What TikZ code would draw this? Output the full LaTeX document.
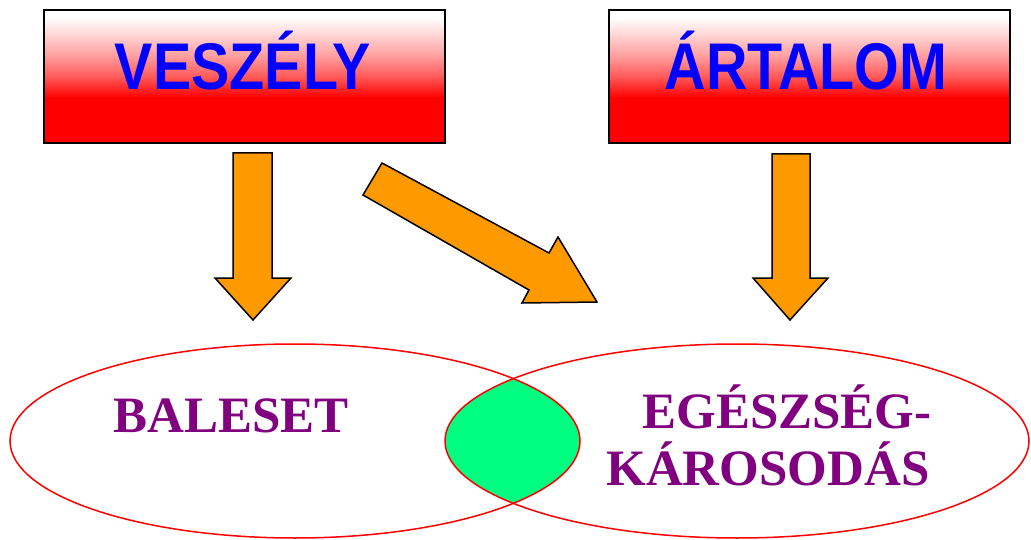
\documentclass[tikz,border=0pt]{standalone}
\usepackage{fontspec}
\setmainfont{Liberation Serif}
\setsansfont{Liberation Sans}
\definecolor{boxblue}{RGB}{0,0,255}
\definecolor{arrorange}{RGB}{255,153,0}
\definecolor{lensgreen}{RGB}{0,255,128}
\definecolor{txtpurple}{RGB}{128,0,128}
\definecolor{redA}{RGB}{255,90,90}
\definecolor{redB}{RGB}{255,160,160}
\definecolor{redC}{RGB}{255,215,215}
\pgfdeclareverticalshading{boxshade}{100bp}{color(0bp)=(red); color(42bp)=(red); color(50bp)=(redA); color(58bp)=(redB); color(66bp)=(redC); color(72bp)=(white); color(100bp)=(white)}
\begin{document}
\begin{tikzpicture}[x=1pt,y=-1pt,
  redbox/.style={draw=black, line width=2pt, rectangle, inner sep=0pt,
    minimum width=401pt, minimum height=133pt, shading=boxshade},
  boxtext/.style={anchor=base, inner sep=0pt, text=boxblue,
    font=\fontsize{66}{66}\selectfont\sffamily\bfseries},
  blockarrow/.style={draw=black, line width=1.5pt, fill=arrorange, line join=miter},
  elltext/.style={anchor=base, inner sep=0pt, text=txtpurple,
    font=\fontsize{51}{51}\selectfont\rmfamily\bfseries},
  vennline/.style={draw=red, line width=1.5pt}
]
\useasboundingbox (0,0) rectangle (1031,540);

% boxes
\node[redbox] (vbox) at (244.5,76.5) {};
\node[redbox] (abox) at (809.5,76.5) {};
\node[boxtext] (vtext) at (243,90) {\scalebox{0.87}[1]{VESZÉLY}};
\node[boxtext] (atext) at (806,90) {\scalebox{0.87}[1]{ÁRTALOM}};

% block arrows
\draw[blockarrow] (233,153) -- (272,153) -- (272,278) -- (291,278) -- (253,320) -- (215,278) -- (233,278) -- cycle;
\draw[blockarrow] (772,154) -- (810,154) -- (810,278) -- (828,278) -- (790,320) -- (753,278) -- (772,278) -- cycle;
\draw[blockarrow] (382,163) -- (549,253) -- (558,237) -- (597,302) -- (522,303) -- (529,290) -- (363,195) -- cycle;

% venn
\begin{scope}
  \clip (295,441) ellipse [x radius=285, y radius=97];
  \fill[lensgreen] (737,441) ellipse [x radius=292, y radius=97];
\end{scope}
\path[vennline] (295,441) ellipse [x radius=285, y radius=97];
\path[vennline] (737,441) ellipse [x radius=292, y radius=97];

\node[elltext] (baleset) at (231,432) {BALESET};
\node[elltext] (egesz) at (787,428) {EGÉSZSÉG-};
\node[elltext] (karos) at (768,485) {KÁROSODÁS};
\end{tikzpicture}
\end{document}
